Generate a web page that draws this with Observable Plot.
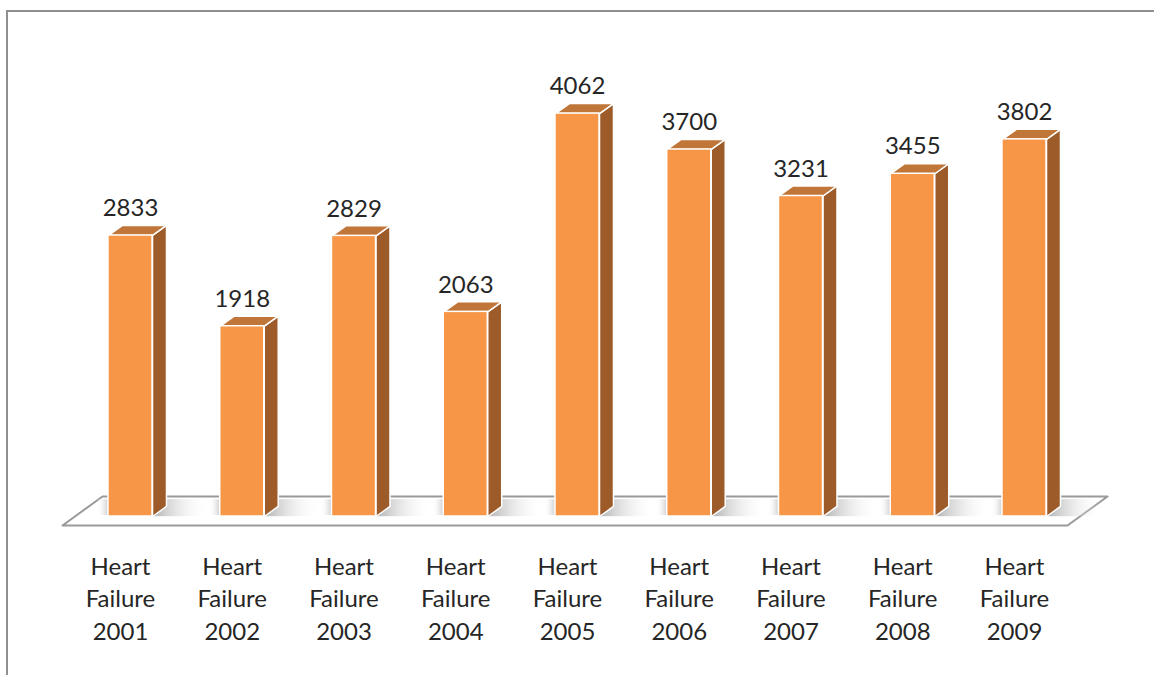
<!DOCTYPE html>
<html>
<head>
<meta charset="utf-8">
<script src="https://cdn.jsdelivr.net/npm/d3@7"></script>
<script src="https://cdn.jsdelivr.net/npm/@observablehq/plot@0.6"></script>
<style>
  html, body { margin: 0; padding: 0; background: #fff; }
  #wrap { position: relative; width: 1154px; height: 675px; overflow: hidden; }
  #frame { position: absolute; left: 6px; top: 10px; width: 1200px; height: 700px;
           border-left: 2px solid #8f8f8f; border-top: 2px solid #8f8f8f; box-sizing: border-box; }
  #chart { position: absolute; left: 0; top: 0; }
</style>
</head>
<body>
<div id="wrap"><div id="frame"></div><div id="chart"></div></div>
<script>
// ---- data ----
const years = ["2001", "2002", "2003", "2004", "2005", "2006", "2007", "2008", "2009"];
const values = [2833, 1918, 2829, 2063, 4062, 3700, 3231, 3455, 3802];
const categoryPrefix = ["Heart", "Failure"];

// ---- table ----
const data = years.map((y, i) => ({
  i, year: y, value: values[i], label: [...categoryPrefix, y].join("\n")
}));

// ---- geometry (in scale units) ----
const hw = 0.197;     // half width of front face
const ddx = 0.125;    // depth offset x
const ddy = 101;      // depth offset y
const floorFront = -91, floorBack = 202;
const floorX = [-0.6085, 8.385, 8.743, -0.2506];

const floor = [
  {x: floorX[0], y: floorFront}, {x: floorX[1], y: floorFront},
  {x: floorX[2], y: floorBack}, {x: floorX[3], y: floorBack},
  {x: floorX[0], y: floorFront}
];
const sides = data.flatMap(d => [
  {z: d.i, x: d.i + hw, y: 0}, {z: d.i, x: d.i + hw + ddx, y: ddy},
  {z: d.i, x: d.i + hw + ddx, y: d.value + ddy}, {z: d.i, x: d.i + hw, y: d.value},
  {z: d.i, x: d.i + hw, y: 0}
]);
const tops = data.flatMap(d => [
  {z: d.i, x: d.i - hw, y: d.value}, {z: d.i, x: d.i - hw + ddx, y: d.value + ddy},
  {z: d.i, x: d.i + hw + ddx, y: d.value + ddy}, {z: d.i, x: d.i + hw, y: d.value},
  {z: d.i, x: d.i - hw, y: d.value}
]);

const plot = Plot.plot({
  width: 1154,
  height: 675,
  margin: 0,
  style: {fontFamily: "Lato, 'Noto Sans', sans-serif", background: "transparent", overflow: "visible"},
  x: {type: "linear", domain: [-0.5, 8.5], range: [74.125, 1079.875], axis: null},
  y: {type: "linear", domain: [0, 5000], range: [516, 20], axis: null},
  marks: [
    Plot.line(floor, {x: "x", y: "y", fill: "white", stroke: "#9a9a9a", strokeWidth: 2, curve: "linear"}),
    Plot.rect(data, {x1: d => d.i + hw - 0.02, x2: d => d.i + hw + 0.5, y1: -2, y2: 170, fill: "url(#shadowGrad)"}),
    Plot.rect(data, {x1: d => d.i - hw - 0.1, x2: d => d.i - hw, y1: 10, y2: 170, fill: "url(#shadowGradL)"}),
    Plot.line(sides, {x: "x", y: "y", z: "z", fill: "#9d5b2a", stroke: "white", strokeWidth: 1.5, strokeLinejoin: "round"}),
    Plot.line(tops, {x: "x", y: "y", z: "z", fill: "#c07539", stroke: "white", strokeWidth: 1.5, strokeLinejoin: "round"}),
    Plot.rect(data, {x1: d => d.i - hw, x2: d => d.i + hw, y1: 0, y2: "value", fill: "#f79646", stroke: "white", strokeWidth: 1.5}),
    Plot.text(data, {x: "i", y: "value", text: d => String(d.value), dy: -27, fontSize: 24, fill: "#262626"}),
    Plot.text(data, {x: "i", y: () => 0, text: "label", lineAnchor: "top", dy: 35, dx: -10, fontSize: 24, lineHeight: 1.355, fill: "#262626"})
  ]
});

// gradient defs for floor shadows
const svg = d3.select(plot);
const defs = svg.insert("defs", ":first-child");
const g1 = defs.append("linearGradient").attr("id", "shadowGrad").attr("x1", 0).attr("x2", 1).attr("y1", 0).attr("y2", 0);
g1.append("stop").attr("offset", "0%").attr("stop-color", "#a8a8a8");
g1.append("stop").attr("offset", "100%").attr("stop-color", "#ffffff").attr("stop-opacity", 0);
const g2 = defs.append("linearGradient").attr("id", "shadowGradL").attr("x1", 1).attr("x2", 0).attr("y1", 0).attr("y2", 0);
g2.append("stop").attr("offset", "0%").attr("stop-color", "#d0d0d0");
g2.append("stop").attr("offset", "100%").attr("stop-color", "#ffffff").attr("stop-opacity", 0);

document.getElementById("chart").appendChild(plot);
</script>
</body>
</html>
